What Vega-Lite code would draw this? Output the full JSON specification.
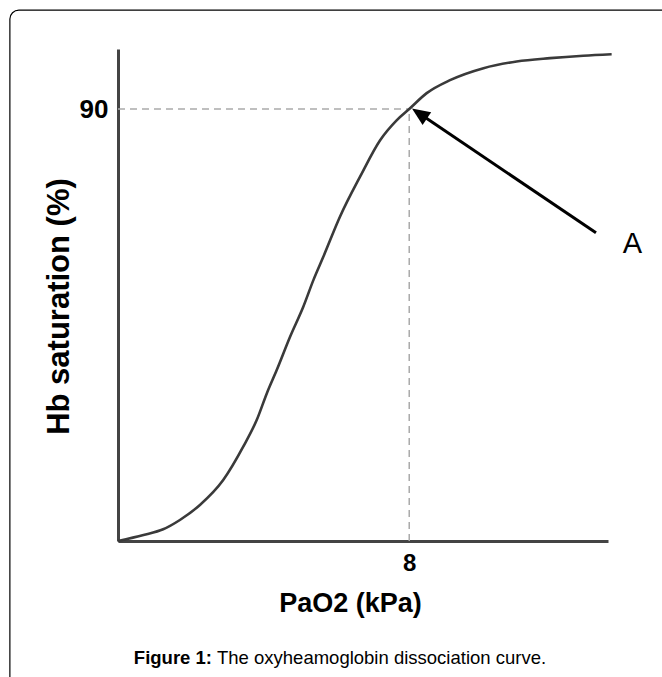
{
  "$schema": "https://vega.github.io/schema/vega-lite/v6.json",
  "width": 490,
  "height": 492,
  "autosize": {"type": "none"},
  "padding": {"left": 118, "top": 49, "right": 54, "bottom": 136},
  "background": "white",
  "config": {"view": {"stroke": null}, "font": "Liberation Sans"},
  "datasets": {
    "curve": [
      {"x": 0, "y": 0},
      {"x": 0.7, "y": 1.25},
      {"x": 1.24, "y": 2.44},
      {"x": 1.7, "y": 4.38},
      {"x": 2.25, "y": 7.5},
      {"x": 2.89, "y": 12.7},
      {"x": 3.44, "y": 19.65},
      {"x": 3.81, "y": 25.2},
      {"x": 4.09, "y": 30.8},
      {"x": 4.36, "y": 35.6},
      {"x": 4.73, "y": 42.6},
      {"x": 5.09, "y": 48.8},
      {"x": 5.37, "y": 54.4},
      {"x": 5.64, "y": 59.2},
      {"x": 6.1, "y": 67.6},
      {"x": 6.65, "y": 75.9},
      {"x": 7.2, "y": 83.5},
      {"x": 7.66, "y": 87.7},
      {"x": 8.0, "y": 90.0},
      {"x": 8.48, "y": 93.3},
      {"x": 9.12, "y": 96.0},
      {"x": 10.04, "y": 98.5},
      {"x": 10.95, "y": 99.9},
      {"x": 11.87, "y": 100.6},
      {"x": 12.78, "y": 101.1},
      {"x": 13.56, "y": 101.4}
    ],
    "refs": [
      {"x": 0, "x2": 8, "y": 90, "y2": 90},
      {"x": 8, "x2": 8, "y": 0, "y2": 90}
    ],
    "frame": [{"x": -2.97, "x2": 40, "y": -60, "y2": 110.6}],
    "arrow": [{"x": 13.13, "y": 64.2, "x2": 8.28, "y2": 89.05}],
    "head": [{"x": 8.28, "y": 89.05}],
    "label": [{"x": 14.13, "y": 60.0, "t": "A"}],
    "capBold": [{"x": 2.582, "y": -25.6, "t": "Figure 1:"}],
    "capText": [{"x": 2.72, "y": -25.6, "t": "The oxyheamoglobin dissociation curve."}]
  },
  "encoding": {
    "x": {
      "field": "x",
      "type": "quantitative",
      "scale": {"domain": [0, 13.46], "nice": false, "zero": false},
      "axis": {
        "title": "PaO2 (kPa)",
        "values": [8],
        "grid": false,
        "ticks": false,
        "domainColor": "#444444",
        "domainWidth": 3,
        "labelFontSize": 24,
        "labelFontWeight": "bold",
        "labelColor": "#000000",
        "labelPadding": 10,
        "labelFlush": false,
        "titleFontSize": 27,
        "titleFontWeight": "bold",
        "titleColor": "#000000",
        "titleX": 232,
        "titleY": 70,
        "titleBaseline": "alphabetic",
        "titleAlign": "center"
      }
    },
    "y": {
      "field": "y",
      "type": "quantitative",
      "scale": {"domain": [0, 102.5], "nice": false, "zero": false},
      "axis": {
        "title": "Hb saturation (%)",
        "values": [90],
        "grid": false,
        "ticks": false,
        "domainColor": "#444444",
        "domainWidth": 3,
        "labelFontSize": 26,
        "labelFontWeight": "bold",
        "labelColor": "#000000",
        "labelPadding": 10,
        "labelFlush": false,
        "titleFontSize": 31,
        "titleFontWeight": "bold",
        "titleColor": "#000000",
        "titleX": -43,
        "titleY": 257,
        "titleAngle": 270,
        "titleBaseline": "bottom",
        "titleAlign": "center"
      }
    }
  },
  "layer": [
    {
      "data": {"name": "frame"},
      "mark": {"type": "rect", "filled": false, "stroke": "#000000", "strokeWidth": 1.2, "cornerRadius": 9},
      "encoding": {"x2": {"field": "x2"}, "y2": {"field": "y2"}}
    },
    {
      "data": {"name": "refs"},
      "mark": {"type": "rule", "color": "#aaaaaa", "strokeWidth": 1.5, "strokeDash": [7, 5]},
      "encoding": {"x2": {"field": "x2"}, "y2": {"field": "y2"}}
    },
    {
      "data": {"name": "curve"},
      "mark": {"type": "line", "color": "#3a3a3a", "strokeWidth": 2.6, "interpolate": "monotone"}
    },
    {
      "data": {"name": "arrow"},
      "mark": {"type": "rule", "color": "#000000", "strokeWidth": 3},
      "encoding": {"x2": {"field": "x2"}, "y2": {"field": "y2"}}
    },
    {
      "data": {"name": "head"},
      "mark": {"type": "point", "shape": "M0,-1L0.85,1L-0.85,1Z", "filled": true, "color": "#000000", "opacity": 1, "size": 324, "angle": 304}
    },
    {
      "data": {"name": "label"},
      "mark": {"type": "text", "fontSize": 29, "align": "center", "baseline": "alphabetic", "color": "#000000"},
      "encoding": {"text": {"field": "t"}}
    },
    {
      "data": {"name": "capBold"},
      "mark": {"type": "text", "fontSize": 18.5, "fontWeight": "bold", "align": "right", "baseline": "alphabetic", "color": "#000000"},
      "encoding": {"text": {"field": "t"}}
    },
    {
      "data": {"name": "capText"},
      "mark": {"type": "text", "fontSize": 18.5, "align": "left", "baseline": "alphabetic", "color": "#000000"},
      "encoding": {"text": {"field": "t"}}
    }
  ]
}
